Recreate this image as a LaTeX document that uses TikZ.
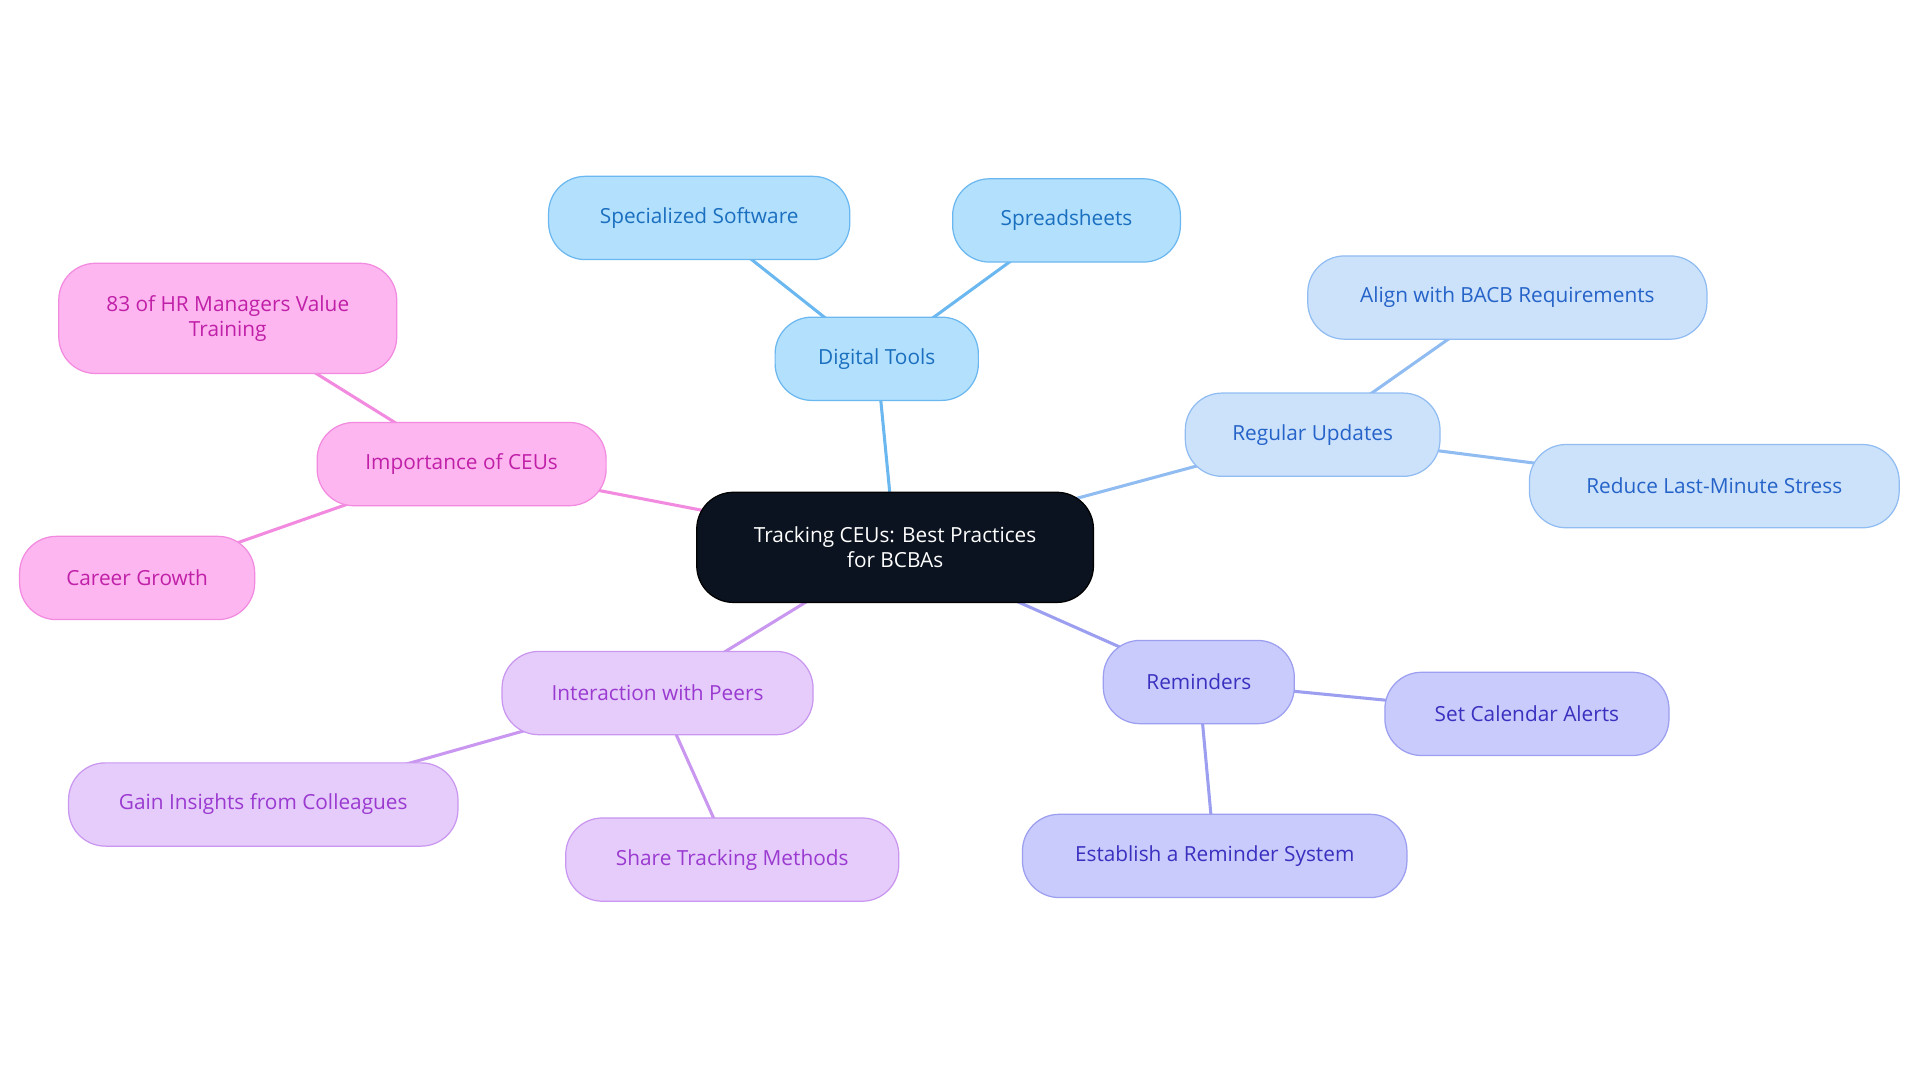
\documentclass[tikz,border=0pt]{standalone}
\usepackage{fontspec}
\setmainfont{Open Sans}
\usetikzlibrary{backgrounds}
\definecolor{cfill}{HTML}{0B1320}
\definecolor{bfill}{HTML}{B3E0FD}\definecolor{bdraw}{HTML}{6BB8F0}\definecolor{btext}{HTML}{1A6FBF}
\definecolor{lfill}{HTML}{CCE2FB}\definecolor{ldraw}{HTML}{90BCF2}\definecolor{ltext}{HTML}{2563C8}
\definecolor{rfill}{HTML}{C8CBFB}\definecolor{rdraw}{HTML}{9C9EF0}\definecolor{rtext}{HTML}{3A30C0}
\definecolor{pfill}{HTML}{E6CCFB}\definecolor{pdraw}{HTML}{C996F0}\definecolor{ptext}{HTML}{9A3AD0}
\definecolor{kfill}{HTML}{FDB6F0}\definecolor{kdraw}{HTML}{F28AE0}\definecolor{ktext}{HTML}{C020A8}
\tikzset{
 box/.style={rounded corners=30pt, minimum height=68pt, align=center, inner sep=0pt, font=\fontsize{17}{20}\selectfont, line width=1pt},
 bb/.style={box, fill=bfill, draw=bdraw, text=btext},
 lb/.style={box, fill=lfill, draw=ldraw, text=ltext},
 rb/.style={box, fill=rfill, draw=rdraw, text=rtext},
 pb/.style={box, fill=pfill, draw=pdraw, text=ptext},
 kb/.style={box, fill=kfill, draw=kdraw, text=ktext},
 ed/.style={line width=2.5pt},
}
\begin{document}
\begin{tikzpicture}[x=1pt,y=-1pt]
\useasboundingbox (0,0) rectangle (1568,884);
\node[box, fill=cfill, draw=black, text=white, minimum width=324pt, minimum height=90pt] (c) at (731,447) {Tracking CEUs: Best Practices\\for BCBAs};
\node[bb, minimum width=166pt] (dt) at (716,293) {Digital Tools};
\node[bb, minimum width=246pt] (ss) at (571,178) {Specialized Software};
\node[bb, minimum width=186pt] (sp) at (871,180) {Spreadsheets};
\node[lb, minimum width=208pt] (ru) at (1072,355) {Regular Updates};
\node[lb, minimum width=326pt] (al) at (1231,243) {Align with BACB Requirements};
\node[lb, minimum width=302pt] (rl) at (1400,397) {Reduce Last-Minute Stress};
\node[rb, minimum width=156pt] (re) at (979,557) {Reminders};
\node[rb, minimum width=232pt] (sc) at (1247,583) {Set Calendar Alerts};
\node[rb, minimum width=314pt] (es) at (992,699) {Establish a Reminder System};
\node[pb, minimum width=254pt] (ip) at (537,566) {Interaction with Peers};
\node[pb, minimum width=318pt] (gi) at (215,657) {Gain Insights from Colleagues};
\node[pb, minimum width=272pt] (st) at (598,702) {Share Tracking Methods};
\node[kb, minimum width=236pt] (ic) at (377,379) {Importance of CEUs};
\node[kb, minimum width=276pt, minimum height=90pt] (hr) at (186,260) {83 of HR Managers Value\\Training};
\node[kb, minimum width=192pt] (cg) at (112,472) {Career Growth};
\begin{pgfonlayer}{background}
\draw[ed, bdraw] (c.center) -- (dt.center) (dt.center) -- (ss.center) (dt.center) -- (sp.center);
\draw[ed, ldraw] (c.center) -- (ru.center) (ru.center) -- (al.center) (ru.center) -- (rl.center);
\draw[ed, rdraw] (c.center) -- (re.center) (re.center) -- (sc.center) (re.center) -- (es.center);
\draw[ed, pdraw] (c.center) -- (ip.center) (ip.center) -- (gi.center) (ip.center) -- (st.center);
\draw[ed, kdraw] (c.center) -- (ic.center) (ic.center) -- (hr.center) (ic.center) -- (cg.center);
\end{pgfonlayer}
\end{tikzpicture}
\end{document}
